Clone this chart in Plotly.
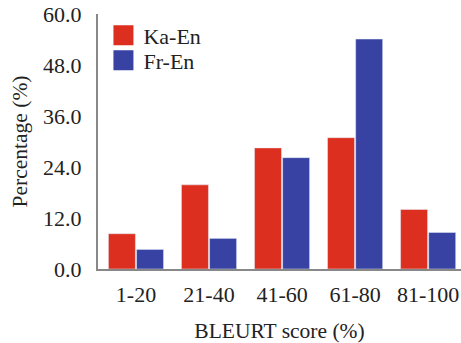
import plotly.graph_objects as go

categories = ["1-20", "21-40", "41-60", "61-80", "81-100"]
ka_en = [8.3, 19.8, 28.5, 30.9, 14.0]
fr_en = [4.6, 7.2, 26.2, 54.1, 8.6]
y_ticks = [0, 12, 24, 36, 48, 60]

RED = "#DD2F1F"
BLUE = "#3742A2"
FONT = "Liberation Serif, Times New Roman, serif"
TEXT = "#222"

fig = go.Figure()
fig.add_trace(go.Bar(x=categories, y=ka_en, name="Ka-En", marker_color=RED, showlegend=False))
fig.add_trace(go.Bar(x=categories, y=fr_en, name="Fr-En", marker_color=BLUE, showlegend=False))

# one legend per series so the two entries can sit closer together
for name, color, leg in [("Ka-En", RED, "legend"), ("Fr-En", BLUE, "legend2")]:
    fig.add_trace(go.Scatter(
        x=[None], y=[None], mode="markers", name=name, legend=leg,
        marker=dict(symbol="square", size=16, color=color, line=dict(color=color, width=4)),
    ))

legend_style = dict(xanchor="left", yanchor="middle", x=0.015,
                    font=dict(family=FONT, size=22, color=TEXT),
                    itemsizing="trace", bgcolor="rgba(0,0,0,0)")

fig.update_layout(
    width=461, height=343,
    margin=dict(l=98, r=0, t=14, b=74),
    plot_bgcolor="white", paper_bgcolor="white",
    barmode="group", bargap=0.23, bargroupgap=0.04,
    font=dict(family=FONT, size=22, color=TEXT),
    legend=dict(y=0.916, **legend_style),
    legend2=dict(y=0.818, **legend_style),
    xaxis=dict(
        range=[-0.52, 4.45], showline=True, linecolor="#888", linewidth=2,
        ticks="", showgrid=False, tickfont=dict(family=FONT, size=22), ticklabelstandoff=5,
        title=dict(text="BLEURT score (%)", font=dict(family=FONT, size=21.5), standoff=20),
    ),
    yaxis=dict(
        range=[0, 60], tickvals=y_ticks, tickformat=".1f",
        showline=True, linecolor="#888", linewidth=2, ticks="", showgrid=False,
        zeroline=False, tickfont=dict(family=FONT, size=22), ticklabelstandoff=10,
        title=dict(text="Percentage (%)", font=dict(family=FONT, size=21.5), standoff=10),
    ),
)

fig.write_html("out.html")
